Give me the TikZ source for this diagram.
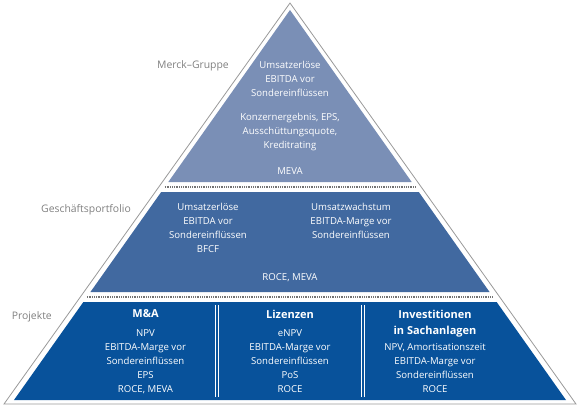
\documentclass[tikz,border=0pt]{standalone}
\usepackage{fontspec}
\setmainfont{Open Sans}
\usetikzlibrary{positioning}
\definecolor{topband}{RGB}{122,143,182}
\definecolor{midband}{RGB}{65,105,160}
\definecolor{lowband}{RGB}{8,82,155}
\definecolor{labelgray}{RGB}{128,128,128}
\newcommand{\bandslope}{0.7077}
\begin{document}
\begin{tikzpicture}[x=1pt, y=-1pt,
	bandtext/.style={text=white, align=center, inner sep=0pt, anchor=north, font=\fontsize{9.6}{14}\selectfont},
	bandhead/.style={bandtext, font=\bfseries\fontsize{11}{16.5}\selectfont},
	sidetext/.style={inner sep=0pt, anchor=east, text=labelgray, font=\fontsize{10.4}{14}\selectfont},
	sepdots/.style={draw=black!55, line width=1.4pt, dash pattern=on 1pt off 0.8pt},
	colsep/.style={draw=white, line width=0.9pt}]

\useasboundingbox (0,0) rectangle (580,407);

\draw[black!40, line width=0.8pt] (290,3) -- (4,404) -- (576,404) -- cycle;

\foreach \ytop/\ybot/\col in {10/182/topband, 192/292/midband, 302/400/lowband}
	\fill[\col] ({290-\bandslope*(\ytop-10)},\ytop) -- ({290+\bandslope*(\ytop-10)},\ytop) -- ({290+\bandslope*(\ybot-10)},\ybot) -- ({290-\bandslope*(\ybot-10)},\ybot) -- cycle;

\foreach \y in {187,297}
	\draw[sepdots] ({290-\bandslope*(\y-10)},\y) -- ({290+\bandslope*(\y-10)},\y);

\foreach \x in {217,363} {
	\draw[colsep] (\x-1.2,305) -- (\x-1.2,397);
	\draw[colsep] (\x+1.2,305) -- (\x+1.2,397);
}

\node[bandtext] (groupsales) at (290,61.5) {Umsatzerlöse\\EBITDA vor\\Sondereinflüssen};
\node[bandtext] (groupprofit) at (290,113) {Konzernergebnis, EPS,\\Ausschüttungsquote,\\Kreditrating};
\node[bandtext] (groupmeva) at (290,167.5) {MEVA};

\node[bandtext] (portsales) at (208,203) {Umsatzerlöse\\EBITDA vor\\Sondereinflüssen\\BFCF};
\node[bandtext] (portgrowth) at (351,203) {Umsatzwachstum\\EBITDA-Marge vor\\Sondereinflüssen};
\node[bandtext] (portmeva) at (290,273.5) {ROCE, MEVA};

\node[bandhead] (mahead) at (145.5,309.5) {M\&A};
\node[bandtext] (mabody) at (145.5,329.5) {NPV\\EBITDA-Marge vor\\Sondereinflüssen\\EPS\\ROCE, MEVA};
\node[bandhead] (lichead) at (290,309.5) {Lizenzen};
\node[bandtext] (licbody) at (290,329.5) {eNPV\\EBITDA-Marge vor\\Sondereinflüssen\\PoS\\ROCE};
\node[bandhead] (capexhead) at (435,309.5) {Investitionen\\in Sachanlagen};
\node[bandtext] (capexbody) at (435,343) {NPV, Amortisationszeit\\EBITDA-Marge vor\\Sondereinflüssen\\ROCE};

\node[sidetext] (lvlgroup) at (229,66) {Merck--Gruppe};
\node[sidetext] (lvlportfolio) at (131,210) {Geschäftsportfolio};
\node[sidetext] (lvlprojects) at (52,317) {Projekte};
\end{tikzpicture}
\end{document}
